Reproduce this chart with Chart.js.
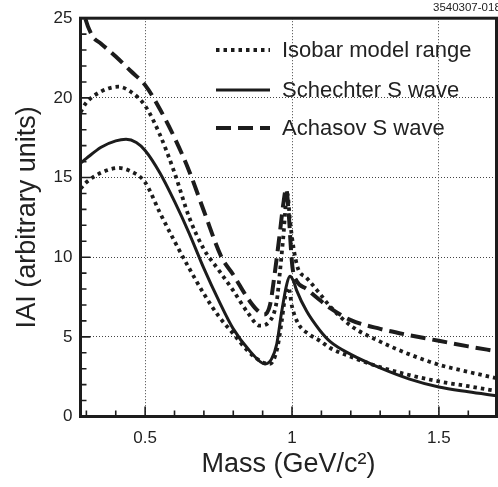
<!DOCTYPE html>
<html lang="en">
<head>
  <meta charset="UTF-8" />
  <title>IAI vs Mass</title>
  <script src="https://cdn.jsdelivr.net/npm/chart.js"></script>
  <style>
    body {
      margin: 0;
      background: #ffffff;
      overflow: hidden;
    }
    .wrap {
      width: 498px;
      height: 487px;
    }
  </style>
</head>
<body>
  <div class="wrap"><canvas id="chart" width="498" height="487"></canvas></div>

  <script>
    // values (mass in GeV/c^2, amplitude in arbitrary units)
    const massAchasov = [0.28, 0.296, 0.32, 0.35, 0.40, 0.45, 0.50, 0.55, 0.60, 0.65, 0.70, 0.76, 0.80, 0.85, 0.88, 0.905, 0.925, 0.942, 0.959, 0.970, 0.980, 0.990, 0.996, 1.002, 1.016, 1.05, 1.085, 1.13, 1.2, 1.3, 1.4, 1.5, 1.6, 1.696];
    const achasov = [26.3, 25.0, 23.9, 23.4, 22.6, 21.7, 20.8, 19.3, 17.5, 15.4, 12.9, 10.0, 8.9, 7.4, 6.7, 6.4, 7.0, 9.1, 11.6, 13.3, 14.3, 12.4, 10.6, 9.3, 8.5, 8.0, 7.45, 6.8, 6.05, 5.5, 5.1, 4.75, 4.4, 4.1];

    const massSchechter = [0.28, 0.30, 0.35, 0.40, 0.435, 0.47, 0.50, 0.55, 0.60, 0.65, 0.70, 0.75, 0.80, 0.857, 0.908, 0.93, 0.948, 0.965, 0.982, 0.993, 1.005, 1.016, 1.05, 1.095, 1.13, 1.2, 1.3, 1.4, 1.5, 1.6, 1.696];
    const schechter = [15.9, 16.2, 16.9, 17.3, 17.4, 17.2, 16.7, 15.3, 13.5, 11.5, 9.3, 7.3, 5.5, 4.1, 3.3, 3.6, 4.55, 6.6, 8.3, 8.8, 8.5, 7.9, 6.6, 5.4, 4.7, 3.9, 3.05, 2.35, 1.85, 1.55, 1.3];

    const massIsobarHigh = [0.28, 0.30, 0.35, 0.41, 0.45, 0.50, 0.55, 0.60, 0.65, 0.70, 0.75, 0.80, 0.85, 0.89, 0.925, 0.948, 0.959, 0.970, 0.984, 0.993, 1.005, 1.02, 1.05, 1.095, 1.13, 1.2, 1.3, 1.4, 1.5, 1.6, 1.696];
    const isobarHigh = [19.1, 19.7, 20.4, 20.7, 20.4, 19.5, 17.7, 15.3, 12.5, 10.5, 9.2, 7.9, 6.5, 5.7, 6.0, 7.25, 9.1, 11.2, 14.0, 12.3, 10.6, 9.3, 8.7, 7.7, 6.9, 5.7, 4.7, 3.9, 3.25, 2.8, 2.4];

    const massIsobarLow = [0.28, 0.30, 0.35, 0.41, 0.45, 0.50, 0.55, 0.60, 0.65, 0.70, 0.75, 0.80, 0.85, 0.90, 0.925, 0.95, 0.965, 0.976, 0.988, 1.0, 1.022, 1.055, 1.095, 1.13, 1.2, 1.3, 1.4, 1.5, 1.6, 1.696];
    const isobarLow = [14.3, 14.7, 15.3, 15.6, 15.4, 14.7, 12.8, 11.0, 9.3, 7.7, 6.3, 5.2, 4.1, 3.4, 3.3, 4.3, 6.0, 7.45, 8.1, 6.9, 5.8, 5.2, 4.75, 4.3, 3.75, 3.1, 2.6, 2.2, 1.9, 1.6];

    const xTickValues = [0.5, 1, 1.5];
    const yTickValues = [0, 5, 10, 15, 20, 25];
    const xMinorTicks = [0.3, 0.4, 0.5, 0.6, 0.7, 0.8, 0.9, 1, 1.1, 1.2, 1.3, 1.4, 1.5, 1.6];
    const yMinorTicks = [1, 2, 3, 4, 5, 6, 7, 8, 9, 10, 11, 12, 13, 14, 15, 16, 17, 18, 19, 20, 21, 22, 23, 24];

    const legendLabels = ['Isobar model range', 'Schechter S wave', 'Achasov S wave'];

    const ink = '#1c1c1c';
    const fontFamily = '"Liberation Sans", Arial, Helvetica, sans-serif';
    const dotted = { borderWidth: 3.8, borderDash: [3.5, 4] };
    const solid = { borderWidth: 3, borderDash: [] };
    const dashed = { borderWidth: 4, borderDash: [15, 7] };

    function toPoints(xs, ys) {
      return xs.map((x, i) => ({ x: x, y: ys[i] }));
    }

    function lineSet(label, xs, ys, style) {
      return {
        label: label,
        data: toPoints(xs, ys),
        borderColor: ink,
        borderWidth: style.borderWidth,
        borderDash: style.borderDash,
        borderCapStyle: 'butt',
        pointRadius: 0,
        fill: false,
        cubicInterpolationMode: 'monotone'
      };
    }

    // frame, inward ticks, legend and the figure number
    const decorPlugin = {
      id: 'decor',
      afterDatasetsDraw(chart) {
        const { ctx, chartArea: a, scales } = chart;
        const x = scales.x, y = scales.y;
        ctx.save();
        ctx.strokeStyle = ink;
        ctx.setLineDash([]);

        ctx.lineWidth = 1.6;
        ctx.beginPath();
        xMinorTicks.forEach(v => {
          const px = x.getPixelForValue(v);
          const len = xTickValues.includes(v) ? 10 : 6;
          ctx.moveTo(px, a.bottom);
          ctx.lineTo(px, a.bottom - len);
        });
        yMinorTicks.forEach(v => {
          const py = y.getPixelForValue(v);
          const len = yTickValues.includes(v) ? 10 : 6;
          ctx.moveTo(a.left, py);
          ctx.lineTo(a.left + len, py);
        });
        ctx.stroke();

        ctx.lineWidth = 3;
        ctx.strokeRect(a.left, a.top, a.right - a.left, a.bottom - a.top);

        // legend
        const styles = [dotted, solid, dashed];
        const rows = [50, 90, 128];
        ctx.font = '22px ' + fontFamily;
        ctx.textBaseline = 'middle';
        ctx.fillStyle = '#222';
        legendLabels.forEach((txt, i) => {
          ctx.lineWidth = styles[i].borderWidth;
          ctx.setLineDash(styles[i].borderDash);
          ctx.lineCap = 'butt';
          ctx.beginPath();
          ctx.moveTo(216, rows[i]);
          ctx.lineTo(270, rows[i]);
          ctx.stroke();
          ctx.fillText(txt, 282, rows[i] + 1);
        });

        ctx.setLineDash([]);
        ctx.font = '11.5px ' + fontFamily;
        ctx.textBaseline = 'alphabetic';
        ctx.fillText('3540307-018', 433, 11);
        ctx.restore();
      }
    };

    const ctx = document.getElementById('chart').getContext('2d');
    const chart = new Chart(ctx, {
      type: 'line',
      data: {
        datasets: [
          lineSet(legendLabels[0], massIsobarHigh, isobarHigh, dotted),
          lineSet(legendLabels[0], massIsobarLow, isobarLow, dotted),
          lineSet(legendLabels[1], massSchechter, schechter, solid),
          lineSet(legendLabels[2], massAchasov, achasov, dashed)
        ]
      },
      options: {
        responsive: false,
        animation: false,
        devicePixelRatio: 1,
        layout: { padding: { top: 16.5, right: 1.5, left: 0, bottom: 0 } },
        plugins: {
          legend: { display: false },
          tooltip: { enabled: false }
        },
        scales: {
          x: {
            type: 'linear',
            min: 0.28,
            max: 1.696,
            afterBuildTicks: s => { s.ticks = xTickValues.map(v => ({ value: v })); },
            afterFit: s => { s.height = 70.5; },
            grid: { color: '#444', lineWidth: 1, drawTicks: false },
            border: { display: false, dash: [1, 2] },
            ticks: {
              padding: 12,
              color: '#222',
              font: { family: fontFamily, size: 17 },
              callback: v => String(v)
            },
            title: {
              display: true,
              text: 'Mass (GeV/c²)',
              color: '#222',
              font: { family: fontFamily, size: 27 },
              padding: { top: 0, bottom: 6 }
            }
          },
          y: {
            min: 0,
            max: 25,
            afterBuildTicks: s => { s.ticks = yTickValues.map(v => ({ value: v })); },
            afterFit: s => { s.width = 80.5; },
            grid: { color: '#444', lineWidth: 1, drawTicks: false },
            border: { display: false, dash: [1, 2] },
            ticks: {
              padding: 8,
              color: '#222',
              font: { family: fontFamily, size: 17 }
            },
            title: {
              display: true,
              text: 'IAI (arbitrary units)',
              color: '#222',
              font: { family: fontFamily, size: 27 },
              padding: { top: 11, bottom: 0 }
            }
          }
        }
      },
      plugins: [decorPlugin]
    });
  </script>
</body>
</html>
